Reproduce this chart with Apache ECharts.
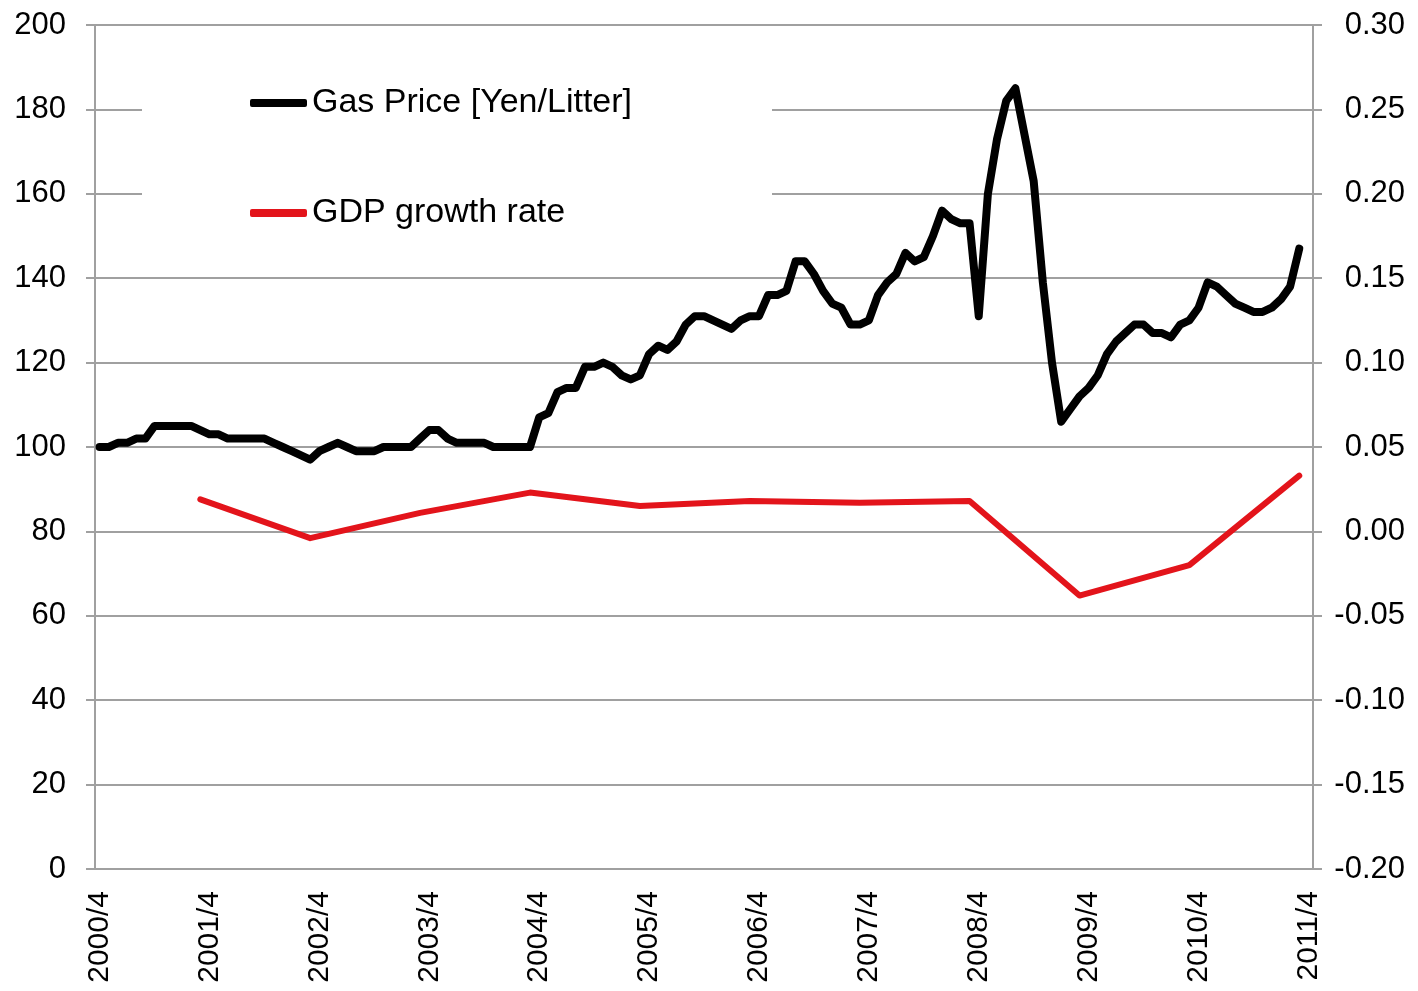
<!DOCTYPE html>
<html>
<head>
<meta charset="utf-8">
<title>Gas Price and GDP growth rate</title>
<script src="https://cdn.jsdelivr.net/npm/echarts@6/dist/echarts.min.js"></script>
<style>
  html, body { margin: 0; padding: 0; background: #fff; }
  #chart { width: 1418px; height: 991px; }
</style>
</head>
<body>
<div id="chart"></div>
<script>
// monthly categories, 2000/4 .. 2011/4
var months = [];
for (var y = 2000; y <= 2011; y++) {
  for (var m = 1; m <= 12; m++) {
    if (y === 2000 && m < 4) continue;
    if (y === 2011 && m > 4) continue;
    months.push(y + '/' + m);
  }
}

// gas price [Yen/Litter], 2000/4 .. 2011/3
var gasPrice = [
  100, 100, 101, 101, 102, 102, 105, 105, 105, 105, 105, 104,
  103, 103, 102, 102, 102, 102, 102, 101, 100, 99, 98, 97,
  99, 100, 101, 100, 99, 99, 99, 100, 100, 100, 100, 102,
  104, 104, 102, 101, 101, 101, 101, 100, 100, 100, 100, 100,
  107, 108, 113, 114, 114, 119, 119, 120, 119, 117, 116, 117,
  122, 124, 123, 125, 129, 131, 131, 130, 129, 128, 130, 131,
  131, 136, 136, 137, 144, 144, 141, 137, 134, 133, 129, 129,
  130, 136, 139, 141, 146, 144, 145, 150, 156, 154, 153, 153,
  131, 160, 173, 182, 185, 174, 163, 139, 120, 106, 109, 112,
  114, 117, 122, 125, 127, 129, 129, 127, 127, 126, 129, 130,
  133, 139, 138, 136, 134, 133, 132, 132, 133, 135, 138, 147
];

// GDP growth rate, fiscal years (point at March)
var gdpMonths = ['2001/3', '2002/3', '2003/3', '2004/3', '2005/3', '2006/3',
                 '2007/3', '2008/3', '2009/3', '2010/3', '2011/3'];
var gdpRate = [0.019, -0.004, 0.011, 0.023, 0.015, 0.018,
               0.017, 0.018, -0.038, -0.020, 0.033];

var gdpSeries = months.map(function (c) {
  var k = gdpMonths.indexOf(c);
  return k >= 0 ? gdpRate[k] : null;
});

var font = '"Liberation Sans", Arial, sans-serif';
var axisGray = '#a0a0a0';

var chart = echarts.init(document.getElementById('chart'));
chart.setOption({
  animation: false,
  backgroundColor: '#fff',
  textStyle: { fontFamily: font },
  grid: { left: 95, right: 105, top: 25, bottom: 122, containLabel: false },
  legend: {
    orient: 'vertical',
    left: 142,
    top: 62,
    padding: [24, 140, 28, 108],
    backgroundColor: '#fff',
    itemWidth: 57,
    itemHeight: 8,
    itemGap: 76,
    icon: 'roundRect',
    textStyle: { fontSize: 34, color: '#000', fontFamily: font, lineHeight: 32 },
    data: ['Gas Price [Yen/Litter]', 'GDP growth rate']
  },
  xAxis: {
    type: 'category',
    data: months,
    boundaryGap: true,
    axisLine: { lineStyle: { color: axisGray, width: 2 } },
    axisTick: { interval: 0, length: 6, lineStyle: { color: axisGray, width: 1 } },
    axisLabel: {
      interval: 11,
      rotate: 90,
      margin: 22,
      fontSize: 30,
      color: '#000',
      fontFamily: font
    },
    splitLine: { show: false }
  },
  yAxis: [{
    type: 'value',
    min: 0,
    max: 200,
    interval: 20,
    axisLine: { show: true, lineStyle: { color: axisGray, width: 2 } },
    axisTick: { show: true, length: 9, lineStyle: { color: axisGray, width: 2 } },
    axisLabel: { fontSize: 31, color: '#000', margin: 29, fontFamily: font },
    splitLine: { lineStyle: { color: axisGray, width: 2 } }
  }, {
    type: 'value',
    min: -0.2,
    max: 0.3,
    interval: 0.05,
    position: 'right',
    axisLine: { show: true, lineStyle: { color: axisGray, width: 2 } },
    axisTick: { show: true, length: 9, lineStyle: { color: axisGray, width: 2 } },
    axisLabel: {
      fontSize: 31,
      color: '#000',
      fontFamily: font,
      align: 'right',
      margin: 92,
      formatter: function (v) { return v.toFixed(2); }
    },
    splitLine: { show: false }
  }],
  series: [{
    name: 'Gas Price [Yen/Litter]',
    type: 'line',
    yAxisIndex: 0,
    data: gasPrice,
    symbol: 'none',
    color: '#000',
    lineStyle: { color: '#000', width: 8, cap: 'round', join: 'round' },
    z: 3
  }, {
    name: 'GDP growth rate',
    type: 'line',
    yAxisIndex: 1,
    data: gdpSeries,
    connectNulls: true,
    symbol: 'none',
    color: '#e3141b',
    lineStyle: { color: '#e3141b', width: 6, cap: 'round', join: 'round' },
    z: 2
  }]
});
</script>
</body>
</html>
